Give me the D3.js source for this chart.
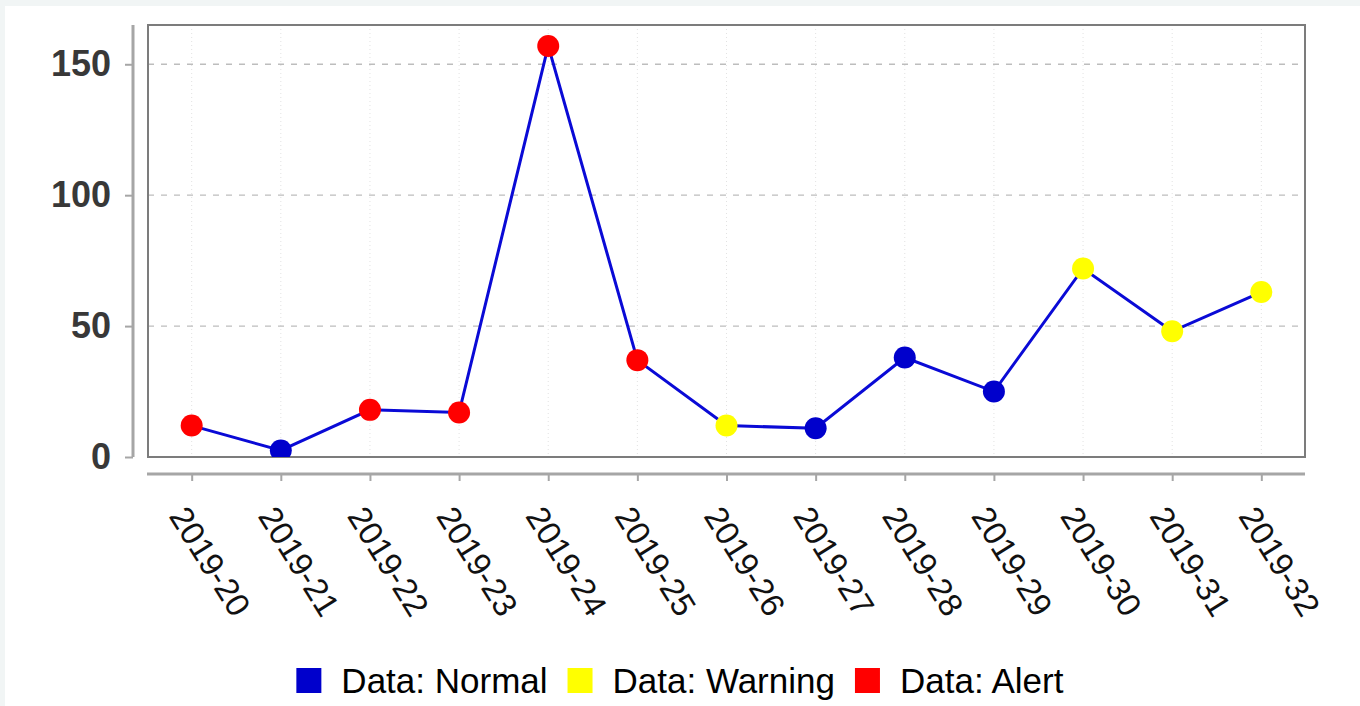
<!DOCTYPE html>
<html>
<head>
<meta charset="utf-8">
<script src="https://cdn.jsdelivr.net/npm/d3@7"></script>
<style>
    html, body { margin:0; padding:0; background:#f1f5f5; }
    .chart { position:absolute; left:5px; top:6px; }
</style>
</head>
<body>
<div class="chart"></div>
<script>
// weekly values, one status per week
const weeks = ["2019-20","2019-21","2019-22","2019-23","2019-24","2019-25","2019-26",
               "2019-27","2019-28","2019-29","2019-30","2019-31","2019-32"];
const values = [12, 2.5, 18, 17, 157, 37, 12, 11, 38, 25, 72, 48, 63];
const status = ["Alert","Normal","Alert","Alert","Alert","Alert","Warning",
                "Normal","Normal","Normal","Warning","Warning","Warning"];
const statusNames = ["Normal","Warning","Alert"];
const statusColors = ["#0000cc","#ffff00","#ff0000"];
const yTicks = [0, 50, 100, 150];

function chart(){
    const W = 1355, H = 700;
    // offsets are relative to the white panel (page left 5, top 6)
    const plot = {left:143, top:19, right:1300, bottom:451};

    const svg = d3.select('.chart').append('svg')
        .attr("width", W)
        .attr("height", H)
        .style("display", "block")
        .style("background", "#fff");

    const xScale = d3.scalePoint()
        .domain(weeks)
        .range([plot.left, plot.right])
        .padding(0.49);

    const yScale = d3.scaleLinear()
        .domain([0, 165])
        .range([plot.bottom, plot.top]);

    const colorScale = d3.scaleOrdinal()
        .domain(statusNames)
        .range(statusColors);

    // grid
    svg.append("g")
        .selectAll("line")
        .data(weeks)
        .join("line")
        .attr("x1", d=>xScale(d)).attr("x2", d=>xScale(d))
        .attr("y1", plot.top).attr("y2", plot.bottom)
        .attr("stroke", "#e2e2e2")
        .attr("stroke-dasharray", "1,3");

    svg.append("g")
        .selectAll("line")
        .data(yTicks.filter(d=>d>0))
        .join("line")
        .attr("x1", plot.left).attr("x2", plot.right)
        .attr("y1", d=>yScale(d)).attr("y2", d=>yScale(d))
        .attr("stroke", "#bdbdbd")
        .attr("stroke-width", 1.3)
        .attr("stroke-dasharray", "6,7");

    // frame
    svg.append("rect")
        .attr("x", plot.left).attr("y", plot.top)
        .attr("width", plot.right - plot.left)
        .attr("height", plot.bottom - plot.top)
        .attr("fill", "none")
        .attr("stroke", "#7c7c7c")
        .attr("stroke-width", 2);

    // y axis, detached to the left
    const yAxis = d3.axisLeft(yScale)
        .tickValues(yTicks)
        .tickSize(8)
        .tickPadding(14)
        .tickSizeOuter(0);

    const yg = svg.append("g")
        .attr("class", "axis y-axis")
        .attr("transform", `translate(${plot.left - 15},0)`)
        .call(yAxis);
    yg.select(".domain")
        .attr("d", `M0,${plot.top}V${plot.bottom}`)
        .attr("stroke", "#a6a6a6")
        .attr("stroke-width", 3);
    yg.selectAll(".tick line").attr("stroke", "#a6a6a6").attr("stroke-width", 2);
    yg.selectAll(".tick text")
        .attr("fill", "#383838")
        .style("font-family", "Liberation Sans, Arial, sans-serif")
        .style("font-size", "36px")
        .style("font-weight", "bold");

    // x axis, detached below
    const xAxis = d3.axisBottom(xScale)
        .tickSize(7)
        .tickSizeOuter(0);

    const xg = svg.append("g")
        .attr("class", "axis x-axis")
        .attr("transform", `translate(0,${plot.bottom + 17})`)
        .call(xAxis);
    xg.select(".domain")
        .attr("d", `M${plot.left - 1},0H${plot.right}`)
        .attr("stroke", "#a6a6a6")
        .attr("stroke-width", 3);
    xg.selectAll(".tick line").attr("stroke", "#a6a6a6").attr("stroke-width", 2);
    xg.selectAll(".tick text")
        .attr("fill", "#111")
        .attr("text-anchor", "start")
        .attr("x", 0).attr("y", 0).attr("dy", null)
        .attr("transform", "translate(-24,42) rotate(58)")
        .style("font-family", "Liberation Sans, Arial, sans-serif")
        .style("font-size", "33px");

    // line + markers, clipped to plot area
    svg.append("clipPath").attr("id", "clip")
        .append("rect")
        .attr("x", plot.left).attr("y", plot.top)
        .attr("width", plot.right - plot.left)
        .attr("height", plot.bottom - plot.top);

    const body = svg.append("g").attr("clip-path", "url(#clip)");

    const line = d3.line()
        .x((d,i)=>xScale(weeks[i]))
        .y(d=>yScale(d));

    body.append("path")
        .datum(values)
        .attr("d", line)
        .attr("fill", "none")
        .attr("stroke", "#0a0ad6")
        .attr("stroke-width", 3);

    body.selectAll("circle")
        .data(values)
        .join("circle")
        .attr("cx", (d,i)=>xScale(weeks[i]))
        .attr("cy", d=>yScale(d))
        .attr("r", 11)
        .attr("fill", (d,i)=>colorScale(status[i]));

    // legend
    const legend = svg.append("g").attr("id", "legend");
    const items = legend.selectAll("g")
        .data(statusNames)
        .join("g");
    items.append("rect")
        .attr("width", 25).attr("height", 25)
        .attr("y", -25)
        .attr("fill", d=>colorScale(d));
    items.append("text")
        .attr("x", 45)
        .attr("y", 0)
        .text(d=>"Data: " + d)
        .style("font-family", "Liberation Sans, Arial, sans-serif")
        .style("font-size", "35px")
        .attr("fill", "#000");

    let xPos = 0;
    items.each(function(){
        const w = this.getBBox().width;
        d3.select(this).attr("transform", `translate(${xPos},0)`);
        xPos += w + 20;
    });
    const total = xPos - 20;
    legend.attr("transform", `translate(${(1360 - total)/2 - 5},${687})`);
}

chart();
</script>
</body>
</html>
